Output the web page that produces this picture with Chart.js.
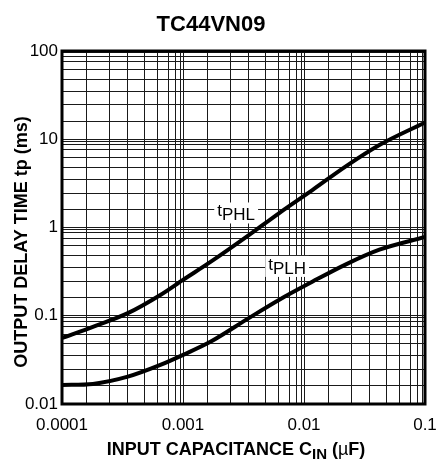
<!DOCTYPE html>
<html>
<head>
<meta charset="utf-8">
<script src="https://cdn.jsdelivr.net/npm/chart.js@4.4.1/dist/chart.umd.min.js"></script>
<style>
  html, body { margin: 0; padding: 0; background: #fff; }
  #chart { display: block; }
</style>
</head>
<body>
<canvas id="chart" width="439" height="462"></canvas>
<script>
// input capacitance (uF)
const capacitance = [0.0001, 0.00018, 0.00035, 0.00065, 0.001, 0.0017, 0.0035, 0.0062, 0.0118, 0.022, 0.042, 0.1];
// output delay time (ms)
const tPHL = [0.056, 0.075, 0.107, 0.172, 0.255, 0.41, 0.82, 1.45, 2.67, 4.9, 8.6, 15.5];
const tPLH = [0.0164, 0.0169, 0.0204, 0.0277, 0.036, 0.051, 0.094, 0.151, 0.244, 0.38, 0.56, 0.78];

const xDecades = [0.0001, 0.001, 0.01, 0.1];
const xTickLabels = ['0.0001', '0.001', '0.01', '0.1'];
const yDecades = [0.01, 0.1, 1, 10, 100];
const yTickLabels = ['0.01', '0.1', '1', '10', '100'];
// the printed grid is not a true log grid, multipliers of its lines inside a decade
const gridSteps = [1.6, 2.45, 3.5, 4.8, 6.2, 7.6, 8.7, 9.55];

// curve names and where they sit (data coords)
const curveLabels = [
  { sub: 'PHL', x: 0.00275, y: 1.48 },
  { sub: 'PLH', x: 0.00726, y: 0.367 }
];

const FONT = '"Liberation Sans", Arial, sans-serif';

function gridTicks(decades) {
  const ticks = [];
  decades.forEach((d, i) => {
    ticks.push({ value: d });
    if (i < decades.length - 1) gridSteps.forEach(m => ticks.push({ value: d * m }));
  });
  return ticks;
}

function decadeLabel(value, decades, labels) {
  const i = decades.findIndex(d => Math.abs(value / d - 1) < 1e-6);
  return i < 0 ? '' : labels[i];
}

function drawRich(ctx, parts, cx, baseline) {
  let w = 0;
  parts.forEach(p => { ctx.font = p.font; p.w = ctx.measureText(p.text).width; w += p.w; });
  let x = cx - w / 2;
  parts.forEach(p => {
    ctx.font = p.font;
    ctx.fillText(p.text, x, baseline + (p.dy || 0));
    x += p.w;
  });
  return w;
}

const textPlugin = {
  id: 'texts',
  afterDatasetsDraw(chart) {
    const { ctx, scales } = chart;
    ctx.save();
    ctx.textAlign = 'left';
    ctx.textBaseline = 'alphabetic';
    curveLabels.forEach(l => {
      const px = scales.x.getPixelForValue(l.x);
      const py = scales.y.getPixelForValue(l.y);
      const parts = [
        { text: 't', font: '17px ' + FONT, dy: -4 },
        { text: l.sub, font: '17px ' + FONT }
      ];
      let w = 0;
      parts.forEach(p => { ctx.font = p.font; w += ctx.measureText(p.text).width; });
      ctx.fillStyle = '#fff';
      ctx.fillRect(px - w / 2 - 3, py - 10, w + 6, 21);
      ctx.fillStyle = '#000';
      drawRich(ctx, parts, px, py + 8);
    });
    ctx.restore();
  },
  afterDraw(chart) {
    const { ctx, chartArea: a } = chart;
    ctx.save();
    ctx.strokeStyle = '#000';
    ctx.lineWidth = 3;
    ctx.strokeRect(a.left, a.top, a.right - a.left, a.bottom - a.top);

    ctx.fillStyle = '#000';
    ctx.textAlign = 'left';
    ctx.textBaseline = 'alphabetic';
    drawRich(ctx, [{ text: 'TC44VN09', font: 'bold 22px ' + FONT }], 211, 31);

    drawRich(ctx, [
      { text: 'INPUT CAPACITANCE C', font: 'bold 18px ' + FONT },
      { text: 'IN', font: 'bold 15px ' + FONT, dy: 4 },
      { text: ' (', font: 'bold 18px ' + FONT },
      { text: '\u00b5', font: '18px ' + FONT },
      { text: 'F)', font: 'bold 18px ' + FONT }
    ], 236, 455);

    ctx.translate(27, 242);
    ctx.rotate(-Math.PI / 2);
    drawRich(ctx, [{ text: 'OUTPUT DELAY TIME tp (ms)', font: 'bold 18px ' + FONT }], 0, 0);
    ctx.restore();
  }
};

const ctx = document.getElementById('chart').getContext('2d');
new Chart(ctx, {
  type: 'line',
  data: {
    datasets: [
      {
        label: 'tPHL',
        data: capacitance.map((c, i) => ({ x: c, y: tPHL[i] })),
        borderColor: '#000',
        borderWidth: 4,
        pointRadius: 0,
        cubicInterpolationMode: 'monotone',
        fill: false
      },
      {
        label: 'tPLH',
        data: capacitance.map((c, i) => ({ x: c, y: tPLH[i] })),
        borderColor: '#000',
        borderWidth: 4,
        pointRadius: 0,
        cubicInterpolationMode: 'monotone',
        fill: false
      }
    ]
  },
  options: {
    responsive: false,
    animation: false,
    layout: { padding: { top: 51, right: 14, left: 0, bottom: 0 } },
    plugins: { legend: { display: false }, tooltip: { enabled: false } },
    scales: {
      x: {
        type: 'logarithmic',
        min: 0.0001,
        max: 0.1,
        afterBuildTicks: s => { s.ticks = gridTicks(xDecades); },
        afterFit: s => { s.height = 58; s.paddingLeft = 0; s.paddingRight = 0; },
        grid: { color: '#1a1a1a', lineWidth: 1, drawTicks: false },
        border: { display: false },
        ticks: {
          autoSkip: false,
          maxRotation: 0,
          padding: 11,
          color: '#000',
          font: { family: FONT, size: 17 },
          callback: v => decadeLabel(v, xDecades, xTickLabels)
        }
      },
      y: {
        type: 'logarithmic',
        min: 0.01,
        max: 100,
        afterBuildTicks: s => { s.ticks = gridTicks(yDecades); },
        afterFit: s => { s.width = 62; s.paddingTop = 0; s.paddingBottom = 0; },
        grid: { color: '#1a1a1a', lineWidth: 1, drawTicks: false },
        border: { display: false },
        ticks: {
          autoSkip: false,
          padding: 4,
          color: '#000',
          font: { family: FONT, size: 17 },
          callback: v => decadeLabel(v, yDecades, yTickLabels)
        }
      }
    }
  },
  plugins: [textPlugin]
});
</script>
</body>
</html>
